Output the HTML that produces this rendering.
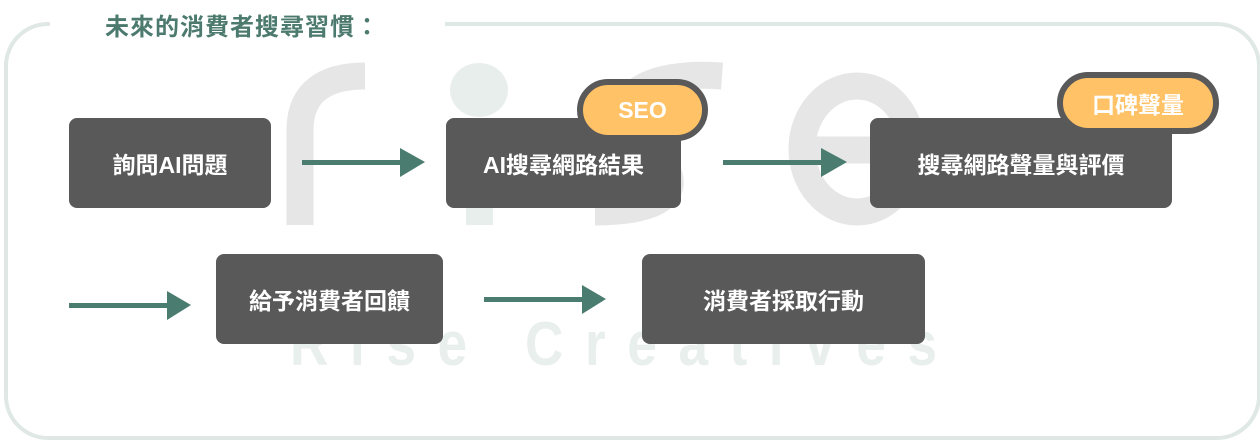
<!DOCTYPE html><html><head><meta charset="utf-8"><style>
body{margin:0;width:1260px;height:440px;background:#fff;position:relative;overflow:hidden;font-family:"Liberation Sans","Noto Sans CJK TC",sans-serif}
.frame{position:absolute;left:4px;top:22px;width:1249px;height:410px;border:4px solid #dfe8e5;border-radius:44px;box-sizing:content-box}
.gap{position:absolute;left:50px;top:14px;width:395px;height:16px;background:#fff}
.title{position:absolute;left:105px;top:7px;font-size:24px;font-weight:bold;color:#4d7a6e;letter-spacing:1px}
.box{position:absolute;background:#595959;border-radius:8px;color:#fff;font-weight:bold;font-size:23px;display:flex;align-items:center;justify-content:center}
.badge{position:absolute;background:#ffc266;border:6px solid #595959;border-radius:32px;color:#fff;font-weight:bold;font-size:23px;display:flex;align-items:center;justify-content:center;box-sizing:border-box}
.wm2{position:absolute;left:290px;top:314px;font-size:62px;line-height:62px;letter-spacing:25px;color:#e8efec;font-weight:bold;transform:scaleX(0.86);transform-origin:left top;white-space:nowrap}
</style></head><body>
<div class="frame"></div><div class="gap"></div>
<div class="title">未來的消費者搜尋習慣：</div>
<svg width="1260" height="440" style="position:absolute;left:0;top:0">
<g fill="none" stroke="#e6e6e6" stroke-width="27">
<path d="M300,225 V130 C300,92 325,76 365,76"/>
<path d="M722,76 C645,70 600,100 640,140 C690,180 680,212 595,212"/>
<ellipse cx="857" cy="149" rx="55" ry="63"/>
<path d="M800,150 H925"/>
</g>
<ellipse cx="479" cy="90" rx="29" ry="27" fill="#e8eeec"/>
<rect x="466" y="200" width="27" height="25" fill="#e8eeec"/>
</svg>
<div class="wm2">Rise Creatives</div>
<svg width="1260" height="440" style="position:absolute;left:0;top:0">
<g fill="#4a7c70">
<rect x="302" y="160" width="100" height="5"/><polygon points="400,148 425,162 400,177"/>
<rect x="723" y="160" width="100" height="5"/><polygon points="821,148 847,162 821,177"/>
<rect x="69" y="303" width="100" height="5"/><polygon points="167,291 191,305 167,320"/>
<rect x="484" y="297" width="100" height="5"/><polygon points="582,285 606,299 582,314"/>
</g></svg>
<div class="box" style="left:69px;top:118px;width:202px;height:90px">詢問AI問題</div>
<div class="box" style="left:446px;top:118px;width:235px;height:90px">AI搜尋網路結果</div>
<div class="box" style="left:870px;top:118px;width:302px;height:90px">搜尋網路聲量與評價</div>
<div class="box" style="left:216px;top:254px;width:227px;height:90px">給予消費者回饋</div>
<div class="box" style="left:642px;top:254px;width:283px;height:90px">消費者採取行動</div>
<div class="badge" style="left:577px;top:79px;width:131px;height:62px">SEO</div>
<div class="badge" style="left:1057px;top:72px;width:162px;height:62px">口碑聲量</div>
</body></html>
